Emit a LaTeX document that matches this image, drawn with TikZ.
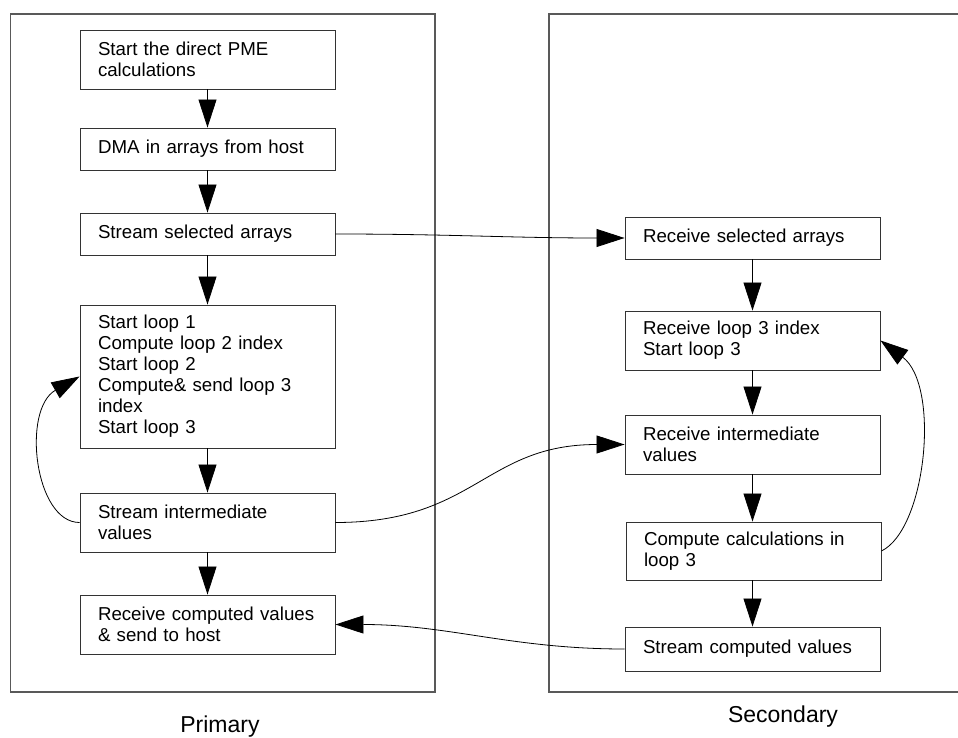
\documentclass[tikz,border=0pt]{standalone}
\usepackage{fontspec}
\setmainfont{Liberation Sans}
\usepackage{tikz}
\usetikzlibrary{arrows.meta}

\tikzset{
  procbox/.style={draw=black!80, line width=0.9pt, text width=219pt, inner xsep=18pt, inner ysep=2pt, align=left, font=\fontsize{18.7}{21}\selectfont},
  flow/.style={line width=0.8pt, -{Triangle[length=28pt,width=18pt]}},
  lane/.style={draw=black!65, line width=1.3pt},
  lanelabel/.style={anchor=base, font=\fontsize{23}{26}\selectfont}
}

\begin{document}
\begin{tikzpicture}[x=1pt,y=-1pt]
\useasboundingbox (0,0) rectangle (958,738);
\draw[lane] (10.5,14) rectangle (435,692);
\draw[lane] (958,14) -| (549,692) -- (958,692);
\node[lanelabel] (primary) at (220,732.5) {Primary};
\node[lanelabel] (secondary) at (783,722) {Secondary};

\node[procbox, minimum height=59pt] (p1) at (207.5,59.5) {Start the direct PME\\calculations};
\node[procbox, minimum height=42pt] (p2) at (207.5,149) {DMA in arrays from host};
\node[procbox, minimum height=42pt] (p3) at (207.5,234) {Stream selected arrays};
\node[procbox, minimum height=143pt] (p4) at (207.5,376.5) {Start loop 1\\Compute loop 2 index\\Start loop 2\\Compute\& send loop 3\\index\\Start loop 3};
\node[procbox, minimum height=59pt] (p5) at (207.5,522.5) {Stream intermediate\\values};
\node[procbox, minimum height=59pt] (p6) at (207.5,624.5) {Receive computed values\\\& send to host};

\node[procbox, minimum height=42pt] (s1) at (752.5,238) {Receive selected arrays};
\node[procbox, minimum height=59pt] (s2) at (752.5,340.5) {Receive loop 3 index\\Start loop 3};
\node[procbox, minimum height=59pt] (s3) at (752.5,444.5) {Receive intermediate\\values};
\node[procbox, minimum height=58pt] (s4) at (753.5,551) {Compute calculations in\\loop 3};
\node[procbox, minimum height=44pt] (s5) at (752.5,649) {Stream computed values};

\draw[flow] (p1) -- (p2);
\draw[flow] (p2) -- (p3);
\draw[flow] (p3) -- (p4);
\draw[flow] (p4) -- (p5);
\draw[flow] (p5) -- (p6);
\draw[flow] (s1) -- (s2);
\draw[flow] (s2) -- (s3);
\draw[flow] (s3.south) -- (s4.north -| s3.south);
\draw[flow] (s4.south -| s5.north) -- (s5.north);

\draw[flow] (p3.east) to[out=0,in=180] (s1.west);
\draw[flow] (p5.east) to[out=0,in=180,looseness=1.2] (s3.west);
\draw[flow] (s5.west) to[out=180,in=0] (p6.east);
\draw[flow] (p5.west) .. controls +(-45,0) and +(-58,33) .. (p4.west);
\draw[flow] (s4.east) .. controls +(45,-22) and +(60,45) .. (s2.east);
\end{tikzpicture}
\end{document}
